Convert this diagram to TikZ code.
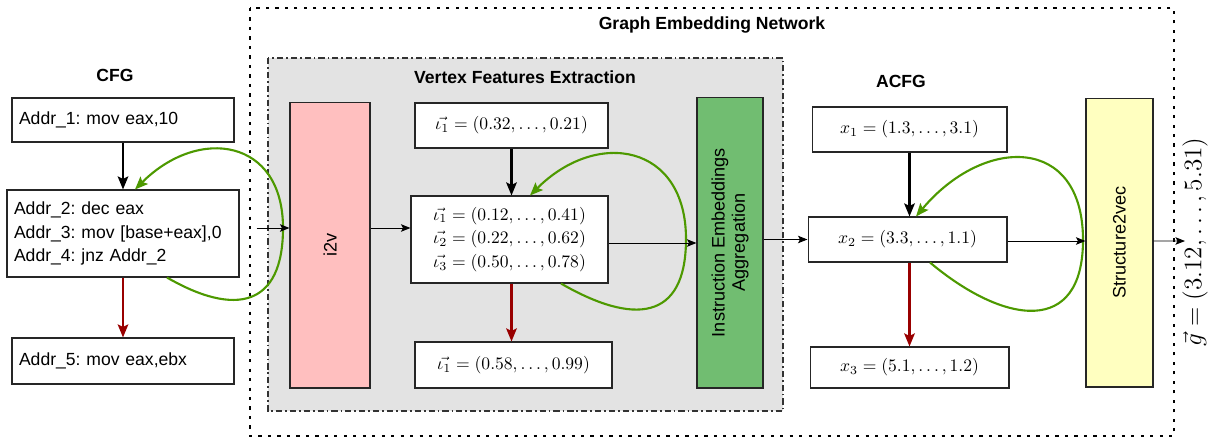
\documentclass[tikz,border=0pt]{standalone}
\usepackage{fontspec}
\setmainfont{Liberation Sans}
\usepackage{amsmath}
\usetikzlibrary{arrows.meta,calc}
\frenchspacing
\definecolor{loopgreen}{HTML}{4D9900}
\definecolor{backred}{HTML}{990000}
\definecolor{i2vpink}{HTML}{FFBFBF}
\definecolor{agggreen}{HTML}{71BD71}
\definecolor{s2vyellow}{HTML}{FFFFC0}
\definecolor{vfegray}{HTML}{E3E3E3}
\tikzstyle{box} = [draw=black!85, line width=0.6pt, fill=white, inner sep=0pt, font=\fontsize{10}{13.4}\selectfont]
\tikzstyle{cfgbox} = [box, inner xsep=0.14cm, align=left, font=\fontsize{10}{13.3}\selectfont]
\tikzstyle{bigbox} = [draw=black!85, line width=0.6pt, inner sep=0pt]
\tikzstyle{title} = [font=\fontsize{10}{12}\selectfont\bfseries]
\tikzstyle{thinarrow} = [line width=0.55pt, -{Stealth[length=1.9mm,width=1.5mm,inset=0.4mm]}]
\tikzstyle{thickarrow} = [line width=1.4pt, -{Stealth[length=2.6mm,width=2.1mm,inset=0.5mm]}]
\tikzstyle{redarrow} = [thickarrow, draw=backred, fill=backred]
\tikzstyle{loopline} = [line width=1.2pt, draw=loopgreen, fill=none, -{Stealth[length=2.6mm,width=2.1mm,inset=0.5mm,fill=loopgreen]}]

\begin{document}
\begin{tikzpicture}[x=0.02cm, y=0.02cm]
		\useasboundingbox (0,0) rectangle (1217,-439);

		\draw [line width=1.2pt, dash pattern=on 1.8pt off 3.6pt] (250,-8) rectangle (1174,-436);
		\draw [fill=vfegray, draw=black!80, line width=0.6pt, dash pattern=on 3.5pt off 1.7pt on 1pt off 1.7pt] (268,-58) rectangle (783,-411);

		\node (gentitle) [title] at (712,-25) {Graph Embedding Network};
		\node (vfetitle) [title] at (525,-77) {Vertex Features Extraction};
		\node (cfgtitle) [title] at (115,-75) {CFG};
		\node (acfgtitle) [title] at (901,-81) {ACFG};

		\node (a1) [cfgbox, minimum width=4.44cm, minimum height=0.88cm, text width=4.16cm] at (123,-120) {Addr\_1: mov eax,10};
		\node (a2) [cfgbox, minimum width=4.64cm, minimum height=1.74cm, text width=4.36cm] at (123,-233.5) {Addr\_2: dec eax\\Addr\_3: mov [base+eax],0\\Addr\_4: jnz Addr\_2};
		\node (a5) [cfgbox, minimum width=4.44cm, minimum height=0.92cm, text width=4.16cm] at (123,-361) {Addr\_5: mov eax,ebx};

		\node (i2v) [bigbox, fill=i2vpink, minimum width=1.6cm, minimum height=5.72cm,
			label={[rotate=90, font=\fontsize{10.3}{11.5}\selectfont]center:i2v}] at (330,-245) {};

		\node (v1) [box, minimum width=3.86cm, minimum height=0.9cm] at (511.5,-125.5) {$\vec{\iota_1} = (0.32, \ldots, 0.21)$};
		\node (v2) [box, minimum width=3.94cm, minimum height=1.74cm, align=center] at (509.5,-239.5) {$\vec{\iota_1} = (0.12, \ldots, 0.41)$\\$\vec{\iota_2} = (0.22, \ldots, 0.62)$\\$\vec{\iota_3} = (0.50, \ldots, 0.78)$};
		\node (v3) [box, minimum width=3.94cm, minimum height=0.92cm] at (513.5,-365) {$\vec{\iota_1} = (0.58, \ldots, 0.99)$};

		\node (agg) [bigbox, fill=agggreen, minimum width=1.32cm, minimum height=5.82cm,
			label={[rotate=90, align=center, font=\fontsize{10.3}{11.5}\selectfont]center:Instruction Embeddings\\Aggregation}] at (730,-242.5) {};

		\node (x1) [box, minimum width=3.9cm, minimum height=0.9cm] at (909.5,-129.5) {$x_1 = (1.3, \ldots, 3.1)$};
		\node (x2) [box, minimum width=3.98cm, minimum height=0.9cm] at (907.5,-239.5) {$x_2 = (3.3, \ldots, 1.1)$};
		\node (x3) [box, minimum width=3.98cm, minimum height=0.82cm] at (909.5,-367.5) {$x_3 = (5.1, \ldots, 1.2)$};

		\node (s2v) [bigbox, fill=s2vyellow, minimum width=1.34cm, minimum height=5.78cm,
			label={[rotate=90, font=\fontsize{10.3}{11.5}\selectfont]center:Structure2vec}] at (1119.5,-242.5) {};

		\node (glabel) [rotate=90, font=\fontsize{14}{16}\selectfont] at (1195,-242) {$\vec{g} = (3.12, \ldots, 5.31)$};
		\coordinate (gout) at (1185,-241);

		\draw [thickarrow] (a1) -- (a2);
		\draw [redarrow] (a2) -- (a5);
		\coordinate (a2turn) at (283,-228);
		\draw [loopline] ($(a2.south)+(44,0)$) to[out=-30, in=-90, looseness=1.6] (a2turn) to[out=90, in=45, looseness=1.5] ($(a2.north)+(12,0)$);
		\draw [thinarrow] ($(a2.east)+(17,5.5)$) coordinate (cfgout) -- (cfgout -| i2v.west);

		\draw [thinarrow] (i2v.east |- cfgout) -- (v2.west |- cfgout);
		\draw [thickarrow] (v1.south) -- (v1.south |- v2.north);
		\draw [redarrow] (v2.south -| v1.south) -- (v1.south |- v3.north);
		\coordinate (v2turn) at (686,-239);
		\draw [loopline] ($(v2.south)+(51.5,0)$) to[out=-30, in=-90, looseness=1.6] (v2turn) to[out=90, in=45, looseness=1.5] ($(v2.north)+(20.5,0)$);
		\draw [thinarrow] ($(v2.east)+(0,-3.5)$) coordinate (vout) -- (vout -| agg.west);

		\draw [thinarrow] (agg.east |- x2.west) -- (x2.west);
		\draw [thickarrow] (x1.south) -- (x1.south |- x2.north);
		\draw [redarrow] (x2.south -| x1.south) -- (x1.south |- x3.north);
		\coordinate (x2turn) at (1083,-240);
		\draw [loopline] ($(x2.south)+(22.5,0)$) to[out=-40, in=-90, looseness=1.6] (x2turn) to[out=90, in=50, looseness=1.6] ($(x2.north)+(8.5,0)$);
		\draw [thinarrow] ($(x2.east)+(0,-1.5)$) coordinate (xout) -- (xout -| s2v.west);
		\draw [thinarrow] (s2v.east |- xout) -- (gout);
	\end{tikzpicture}
\end{document}
